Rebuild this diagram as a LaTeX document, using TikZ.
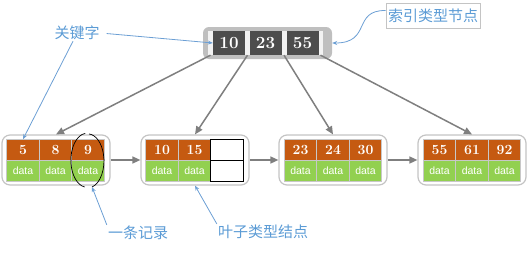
\documentclass[tikz,border=0pt]{standalone}
\usepackage{fontspec}
\usepackage{tikz}
\usetikzlibrary{arrows.meta, shapes.geometric, calc}
\newfontfamily\cjk{Noto Sans CJK SC}
\newfontfamily\datafont{Liberation Sans}

\definecolor{keyorange}{HTML}{C55A11}
\definecolor{datagreen}{HTML}{92D050}
\definecolor{rootgray}{HTML}{BFBFBF}
\definecolor{stripgray}{HTML}{F2F2F2}
\definecolor{rootkey}{HTML}{4D4D4D}
\definecolor{boxgray}{HTML}{C4C4C4}
\definecolor{cellgray}{HTML}{C8C8C8}
\definecolor{linkgray}{HTML}{7F7F7F}
\definecolor{noteblue}{HTML}{5B9BD5}
\definecolor{noteline}{HTML}{6C9FD4}

\tikzset{
  leafbox/.style={draw=boxgray, line width=1.2pt, rounded corners=8pt, fill=white,
    minimum width=108pt, minimum height=50pt},
  keycell/.style={draw=cellgray, line width=0.6pt, fill=keyorange, text=white,
    font=\bfseries\fontsize{14}{14}\selectfont, minimum width=32.5pt, minimum height=21pt, inner sep=0pt},
  datacell/.style={keycell, fill=datagreen, font=\datafont\fontsize{10.5}{10.5}\selectfont},
  emptycell/.style={draw=black, line width=0.8pt, fill=white,
    minimum width=32.5pt, minimum height=21pt, inner sep=0pt},
  rootkey/.style={fill=rootkey, text=white, font=\bfseries\fontsize{17}{17}\selectfont,
    minimum width=32pt, minimum height=24pt, inner sep=0pt},
  rootstrip/.style={fill=stripgray, minimum width=5pt, minimum height=24pt, inner sep=0pt},
  link/.style={draw=linkgray, line width=1.5pt, -{Triangle[length=8pt,width=7pt]}},
  note/.style={text=noteblue, font=\cjk\fontsize{15}{15}\selectfont, inner sep=1pt},
  noteline/.style={draw=noteline, line width=0.8pt, -{Stealth[length=5pt,width=4pt]}}
}

\begin{document}
\begin{tikzpicture}[x=1pt, y=-1pt]
\useasboundingbox (0,0) rectangle (530,252);

% Index node
\node[fill=rootgray, rounded corners=6pt, minimum width=129pt, minimum height=32pt] (root) at (267.5,43) {};
\node[rootstrip] (s1) at (210.5,43) {};
\node[rootstrip] (s2) at (247.5,43) {};
\node[rootstrip] (s3) at (284,43) {};
\node[rootstrip] (s4) at (320.5,43) {};
\node[rootkey] (r1) at (229,43) {10};
\node[rootkey] (r2) at (265.5,43) {23};
\node[rootkey] (r3) at (302.5,43) {55};

% Leaf nodes
\node[leafbox] (L1) at (56,160) {};
\node[leafbox] (L2) at (195,160) {};
\node[leafbox] (L3) at (333,160) {};
\node[leafbox] (L4) at (472,160) {};

% Leaf 1
\node[keycell] (k11) at (23,150) {5};
\node[keycell] (k12) at (55.5,150) {8};
\node[keycell] (k13) at (88,150) {9};
\node[datacell] (d11) at (23,171) {data};
\node[datacell] (d12) at (55.5,171) {data};
\node[datacell] (d13) at (88,171) {data};

% Leaf 2
\node[keycell] (k21) at (162,150) {10};
\node[keycell] (k22) at (194.5,150) {15};
\node[emptycell] (k23) at (227,150) {};
\node[datacell] (d21) at (162,171) {data};
\node[datacell] (d22) at (194.5,171) {data};
\node[emptycell] (d23) at (227,171) {};

% Leaf 3
\node[keycell] (k31) at (300.5,150) {23};
\node[keycell] (k32) at (333,150) {24};
\node[keycell] (k33) at (365.5,150) {30};
\node[datacell] (d31) at (300.5,171) {data};
\node[datacell] (d32) at (333,171) {data};
\node[datacell] (d33) at (365.5,171) {data};

% Leaf 4
\node[keycell] (k41) at (439.5,150) {55};
\node[keycell] (k42) at (472,150) {61};
\node[keycell] (k43) at (504.5,150) {92};
\node[datacell] (d41) at (439.5,171) {data};
\node[datacell] (d42) at (472,171) {data};
\node[datacell] (d43) at (504.5,171) {data};

% Pointers
\draw[link] (s1.south) -- (L1.north);
\draw[link] (s2.south) -- (L2.north);
\draw[link] (s3.south) -- (L3.north);
\draw[link] (s4.south) -- (L4.north);
\draw[link] (L1.east) -- (L2.west);
\draw[link] (L2.east) -- (L3.west);
\draw[link] (L3.east) -- (L4.west);

% One record
\coordinate (rec9) at (88,160);
\draw[line width=0.7pt] ($(rec9)+(-2.8,-26.6)$) arc[start angle=96, end angle=262, x radius=16pt, y radius=27pt];
\draw[line width=0.7pt] ($(rec9)+(4.1,27)$) arc[start angle=-75, end angle=86, x radius=16pt, y radius=27pt];
\coordinate (rec9b) at (92,187);

% Notes
\node[note] (kw) at (77,33) {关键字};
\node[note] (rec) at (138,233) {一条记录};
\node[note] (leaf) at (263,232) {叶子类型结点};
\node[note, draw=boxgray, line width=0.6pt, minimum width=94pt, minimum height=25pt] (idx) at (433,15.5) {索引类型节点};

\draw[noteline, shorten <=6pt] (kw.east) -- (r1.west);
\draw[noteline] ($(kw.south)+(-4,0)$) -- (k11.north);
\draw[noteline] (rec.north west) -- (rec9b);
\draw[noteline] (leaf.north west) -- (L2.south);
\draw[noteline] ($(idx.west)+(0,-5)$) .. controls (352,10) and (372,43) .. (root.east);

\end{tikzpicture}
\end{document}
